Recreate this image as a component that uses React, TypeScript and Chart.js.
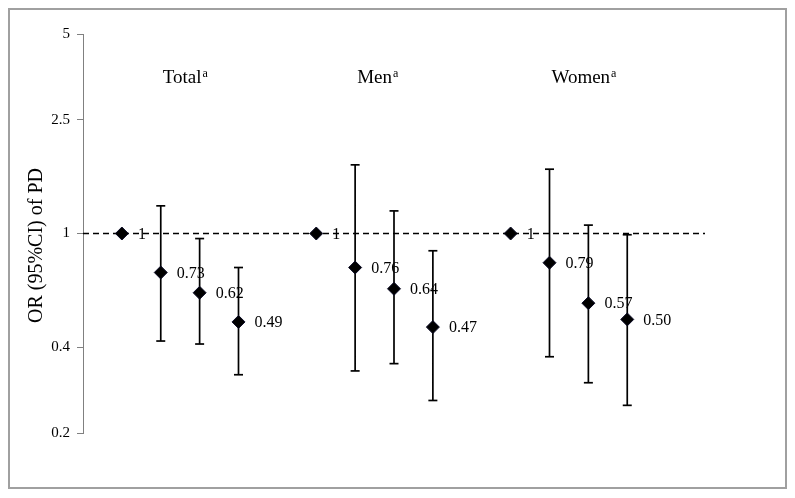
import React, { useEffect, useRef } from "react";
import { Chart, registerables } from "chart.js";

Chart.register(...registerables);

// ---- data ----
const groups = ["Total", "Men", "Women"];
const groupSuperscript = "a";
const totalOR = [1, 0.73, 0.62, 0.49];
const totalLower = [null, 0.42, 0.41, 0.32];
const totalUpper = [null, 1.25, 0.96, 0.76];
const menOR = [1, 0.76, 0.64, 0.47];
const menLower = [null, 0.33, 0.35, 0.26];
const menUpper = [null, 1.74, 1.2, 0.87];
const womenOR = [1, 0.79, 0.57, 0.5];
const womenLower = [null, 0.37, 0.3, 0.25];
const womenUpper = [null, 1.68, 1.07, 0.99];
const yTickValues = [0.2, 0.4, 1, 2.5, 5];
const yTickLabels = ["0.2", "0.4", "1", "2.5", "5"];
const referenceValue = 1;
const yTitle = "OR (95%CI) of PD";

const FONT = '"Liberation Serif", "Times New Roman", serif';

const orSeries = [totalOR, menOR, womenOR];
const lowerSeries = [totalLower, menLower, womenLower];
const upperSeries = [totalUpper, menUpper, womenUpper];
const GROUP_STRIDE = 5;

const fmt = (v: number) => (v === 1 ? "1" : v.toFixed(2));

export default function App() {
  const ref = useRef<HTMLCanvasElement | null>(null);

  useEffect(() => {
    if (!ref.current) return;
    const points: { x: number; y: number }[] = [];
    const pointLabels: string[] = [];
    const bars: { x: number; y: number | null }[] = [];
    orSeries.forEach((arr, g) => {
      arr.forEach((v, i) => {
        const x = g * GROUP_STRIDE + i;
        points.push({ x, y: v });
        pointLabels.push(fmt(v));
        const lo = lowerSeries[g][i];
        const hi = upperSeries[g][i];
        if (lo != null && hi != null) {
          bars.push({ x, y: lo }, { x, y: hi }, { x, y: null });
        }
      });
    });
    const xMin = -1;
    const xMax = (groups.length - 1) * GROUP_STRIDE + 5;

    const labelPlugin = {
      id: "labels",
      afterDatasetsDraw(chart: any) {
        const ctx = chart.ctx as CanvasRenderingContext2D;
        const meta = chart.getDatasetMeta(0);
        ctx.save();
        ctx.fillStyle = "#000";
        ctx.font = `16px ${FONT}`;
        ctx.textAlign = "left";
        ctx.textBaseline = "middle";
        meta.data.forEach((el: any, i: number) => {
          ctx.fillText(pointLabels[i], el.x + 16, el.y + 1);
        });
        // group labels
        const xs = chart.scales.x;
        const top = chart.chartArea.top;
        groups.forEach((g, gi) => {
          const x0 = xs.getPixelForValue(gi * GROUP_STRIDE + 1) + 2;
          const y0 = top + 44;
          ctx.font = `19px ${FONT}`;
          ctx.textBaseline = "middle";
          ctx.fillText(g, x0, y0);
          const w = ctx.measureText(g).width;
          ctx.font = `12px ${FONT}`;
          ctx.fillText(groupSuperscript, x0 + w + 1, y0 - 4);
        });
        // y title
        ctx.font = `20px ${FONT}`;
        ctx.textAlign = "center";
        ctx.textBaseline = "middle";
        ctx.translate(27, (chart.chartArea.top + chart.chartArea.bottom) / 2 + 12);
        ctx.rotate(-Math.PI / 2);
        ctx.fillText(yTitle, 0, 0);
        ctx.restore();
      },
    };

    const chart = new Chart(ref.current, {
      type: "line",
      data: {
        datasets: [
          {
            data: points,
            showLine: false,
            pointStyle: "rectRot",
            pointRadius: 6.5,
            pointBackgroundColor: "#000",
            pointBorderColor: "#0b0b25",
            pointBorderWidth: 1,
            order: 0,
          } as any,
          {
            data: bars,
            showLine: true,
            spanGaps: false,
            borderColor: "#000",
            borderWidth: 1.7,
            pointStyle: "line",
            pointRadius: 4.5,
            pointBorderColor: "#000",
            pointBorderWidth: 1.7,
            order: 1,
          } as any,
          {
            data: [
              { x: xMin, y: referenceValue },
              { x: xMax, y: referenceValue },
            ],
            showLine: true,
            borderColor: "#000",
            borderWidth: 1.5,
            borderDash: [6, 4],
            pointRadius: 0,
            order: 2,
          } as any,
        ],
      },
      options: {
        animation: false,
        responsive: false,
        events: [],
        layout: { padding: { left: 0, right: 80, top: 24, bottom: 54 } },
        plugins: { legend: { display: false }, tooltip: { enabled: false } },
        scales: {
          x: { type: "linear", min: xMin, max: xMax, display: false },
          y: {
            type: "logarithmic",
            min: yTickValues[0],
            max: yTickValues[yTickValues.length - 1],
            afterBuildTicks: (scale: any) => {
              scale.ticks = yTickValues.map((v) => ({ value: v }));
            },
            afterFit: (scale: any) => {
              scale.width = 73;
            },
            ticks: {
              callback: (_v: any, i: number) => yTickLabels[i],
              font: { family: FONT, size: 15 },
              color: "#000",
              padding: 7,
              autoSkip: false,
            },
            grid: {
              display: true,
              drawOnChartArea: false,
              drawTicks: true,
              tickLength: 6,
              color: "#808080",
            },
            border: { display: true, color: "#808080", width: 1 },
          },
        },
      },
      plugins: [labelPlugin],
    } as any);
    return () => chart.destroy();
  }, []);

  return (
    <div
      style={{
        width: 779,
        height: 481,
        border: "2px solid #a0a0a0",
        boxSizing: "border-box",
        background: "#fff",
      }}
    >
      <canvas ref={ref} width={775} height={477} style={{ display: "block" }} />
    </div>
  );
}
